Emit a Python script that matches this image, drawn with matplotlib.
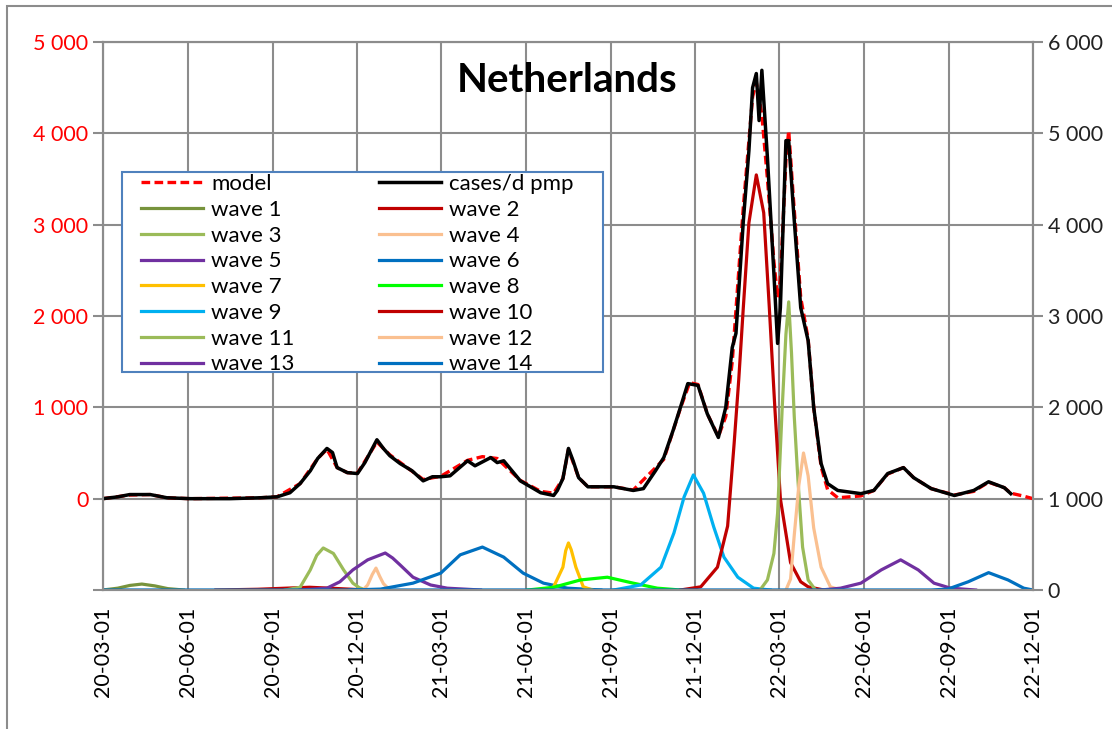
import matplotlib
matplotlib.use('Agg')
import matplotlib.pyplot as plt
import matplotlib.dates as mdates
from matplotlib.patches import Rectangle
import pandas as pd

plt.rcParams['font.family'] = ['Lato', 'DejaVu Sans']

# cases per day per million (left axis)
case_dates = ['2020-03-01', '2020-03-17', '2020-03-30', '2020-04-21', '2020-05-09', '2020-06-03',
              '2020-07-16', '2020-08-18', '2020-09-05', '2020-09-19', '2020-09-30', '2020-10-11',
              '2020-10-19', '2020-10-29', '2020-11-04', '2020-11-09', '2020-11-20', '2020-12-01',
              '2020-12-09', '2020-12-22', '2020-12-29', '2021-01-05', '2021-01-16', '2021-01-29',
              '2021-02-10', '2021-02-20', '2021-03-01', '2021-03-11', '2021-03-30', '2021-04-07',
              '2021-04-24', '2021-05-01', '2021-05-08', '2021-05-26', '2021-06-17', '2021-07-01',
              '2021-07-05', '2021-07-11', '2021-07-17', '2021-07-22', '2021-07-28', '2021-08-07',
              '2021-09-04', '2021-09-25', '2021-10-06', '2021-10-19', '2021-10-28', '2021-11-07',
              '2021-11-15', '2021-11-23', '2021-12-04', '2021-12-14', '2021-12-26', '2022-01-03',
              '2022-01-10', '2022-01-14', '2022-01-22', '2022-01-28', '2022-02-01', '2022-02-05',
              '2022-02-08', '2022-02-11', '2022-02-17', '2022-02-24', '2022-02-28', '2022-03-03',
              '2022-03-09', '2022-03-12', '2022-03-17', '2022-03-25', '2022-04-02', '2022-04-08',
              '2022-04-16', '2022-04-23', '2022-05-04', '2022-05-29', '2022-06-12', '2022-06-27',
              '2022-07-14', '2022-07-25', '2022-08-13', '2022-09-07', '2022-09-28', '2022-10-14',
              '2022-10-31', '2022-11-07']
case_vals = [0, 20, 45, 45, 10, 0,
             0, 10, 20, 65, 165, 305,
             440, 550, 505, 340, 285, 275,
             395, 645, 550, 470, 385, 305,
             195, 240, 240, 250, 415, 360,
             450, 395, 415, 195, 65, 35,
             90, 220, 550, 415, 230, 130,
             130, 90, 110, 305, 450, 745,
             1000, 1260, 1240, 930, 670, 1000,
             1655, 1810, 3045, 3810, 4500, 4655,
             4140, 4690, 3735, 2465, 1700, 2090,
             3920, 3920, 3185, 2090, 1730, 1000,
             385, 165, 90, 55, 90, 275,
             340, 230, 110, 35, 90, 185,
             120, 55]

# model (left axis)
model_dates = ['2020-03-01', '2020-03-30', '2020-04-21', '2020-05-09', '2020-06-03', '2020-08-18',
               '2020-09-05', '2020-09-30', '2020-10-19', '2020-10-29', '2020-11-09', '2020-11-20',
               '2020-12-01', '2020-12-22', '2021-01-05', '2021-01-29', '2021-02-10', '2021-03-01',
               '2021-03-30', '2021-04-15', '2021-05-01', '2021-05-26', '2021-06-17', '2021-07-01',
               '2021-07-11', '2021-07-17', '2021-07-28', '2021-08-07', '2021-09-04', '2021-09-25',
               '2021-10-28', '2021-11-15', '2021-11-25', '2021-12-04', '2021-12-14', '2021-12-26',
               '2022-01-03', '2022-01-10', '2022-01-22', '2022-02-01', '2022-02-05', '2022-02-11',
               '2022-02-17', '2022-02-24', '2022-02-28', '2022-03-03', '2022-03-09', '2022-03-12',
               '2022-03-17', '2022-03-25', '2022-04-02', '2022-04-08', '2022-04-16', '2022-04-23',
               '2022-05-04', '2022-05-29', '2022-06-12', '2022-06-27', '2022-07-14', '2022-07-25',
               '2022-08-13', '2022-09-07', '2022-09-28', '2022-10-14', '2022-10-31', '2022-11-07',
               '2022-11-20', '2022-12-01']
model_vals = [0, 40, 45, 10, 0, 10,
              20, 165, 440, 540, 340, 285,
              280, 620, 480, 300, 210, 245,
              420, 460, 440, 200, 80, 60,
              220, 540, 230, 130, 130, 95,
              430, 990, 1270, 1250, 930, 680,
              900, 1500, 3200, 4400, 4560, 4200,
              3500, 2600, 2200, 2400, 3700, 4030,
              3300, 2200, 1750, 1000, 350, 100,
              10, 30, 90, 270, 340, 230,
              110, 40, 80, 180, 120, 60,
              30, 0]

# waves (right axis)
w1_dates = ['2020-03-01', '2020-03-17', '2020-03-30', '2020-04-12', '2020-04-26', '2020-05-10', '2020-05-27']
w1_vals = [0, 20, 50, 65, 45, 15, 0]
w2_dates = ['2020-07-01', '2020-08-15', '2020-09-15', '2020-10-10', '2020-11-01', '2020-11-25', '2020-12-10']
w2_vals = [0, 8, 20, 30, 20, 8, 0]
w3_dates = ['2020-09-14', '2020-09-30', '2020-10-11', '2020-10-18', '2020-10-25', '2020-11-05',
            '2020-11-16', '2020-11-26', '2020-12-03', '2020-12-10']
w3_vals = [0, 30, 220, 380, 460, 400, 220, 75, 25, 0]
w4_dates = ['2020-12-07', '2020-12-12', '2020-12-17', '2020-12-21', '2020-12-25', '2020-12-29', '2021-01-05']
w4_vals = [0, 55, 170, 240, 150, 70, 0]
w5_dates = ['2020-09-30', '2020-10-29', '2020-11-12', '2020-11-26', '2020-12-12', '2020-12-31',
            '2021-01-08', '2021-01-16', '2021-01-30', '2021-02-18', '2021-03-08', '2021-04-13']
w5_vals = [0, 20, 90, 220, 330, 405, 350, 275, 140, 55, 20, 0]
w6_dates = ['2020-11-23', '2020-12-26', '2021-01-30', '2021-03-01', '2021-03-22', '2021-04-15',
            '2021-05-08', '2021-05-29', '2021-06-20', '2021-07-16', '2021-08-21']
w6_vals = [0, 10, 75, 185, 385, 470, 360, 185, 75, 20, 0]
w7_dates = ['2021-06-22', '2021-07-01', '2021-07-11', '2021-07-14', '2021-07-17', '2021-07-20',
            '2021-07-25', '2021-08-02', '2021-08-12']
w7_vals = [0, 35, 250, 430, 515, 440, 250, 35, 0]
w8_dates = ['2021-06-03', '2021-07-01', '2021-07-30', '2021-08-28', '2021-09-25', '2021-10-21', '2021-11-15']
w8_vals = [0, 30, 110, 140, 75, 20, 0]
w9_dates = ['2021-09-04', '2021-10-03', '2021-10-25', '2021-11-08', '2021-11-19', '2021-11-29',
            '2021-12-10', '2021-12-21', '2022-01-01', '2022-01-16', '2022-02-02', '2022-02-20']
w9_vals = [0, 55, 250, 625, 1020, 1260, 1060, 690, 360, 140, 20, 0]
w10_dates = ['2021-11-15', '2021-12-07', '2021-12-25', '2022-01-05', '2022-01-12', '2022-01-17',
             '2022-01-22', '2022-01-28', '2022-02-05', '2022-02-13', '2022-02-19', '2022-02-25',
             '2022-03-03', '2022-03-14', '2022-03-25', '2022-04-02', '2022-04-19']
w10_vals = [0, 35, 250, 700, 1600, 2300, 3100, 4020, 4545, 4130, 3100, 2000, 1000, 300, 90, 35, 0]
w11_dates = ['2022-02-09', '2022-02-17', '2022-02-24', '2022-02-28', '2022-03-05', '2022-03-09',
             '2022-03-12', '2022-03-15', '2022-03-18', '2022-03-22', '2022-03-27', '2022-04-02', '2022-04-10']
w11_vals = [0, 110, 400, 840, 2000, 2800, 3155, 2600, 1900, 1200, 470, 110, 0]
w12_dates = ['2022-03-09', '2022-03-14', '2022-03-18', '2022-03-23', '2022-03-28', '2022-04-02',
             '2022-04-08', '2022-04-16', '2022-04-26', '2022-05-07']
w12_vals = [0, 120, 600, 1150, 1500, 1250, 680, 250, 35, 0]
w13_dates = ['2022-04-16', '2022-05-07', '2022-05-29', '2022-06-20', '2022-07-11', '2022-07-30',
             '2022-08-16', '2022-09-03', '2022-09-30']
w13_vals = [0, 20, 75, 220, 330, 220, 75, 20, 0]
w14_dates = ['2020-03-01', '2022-08-13', '2022-08-31', '2022-09-22', '2022-10-14', '2022-11-04',
             '2022-11-21', '2022-12-01']
w14_vals = [0, 0, 10, 90, 190, 110, 20, 0]

waves = [(w1_dates, w1_vals, '#77933C'), (w2_dates, w2_vals, '#C00000'),
         (w3_dates, w3_vals, '#9BBB59'), (w4_dates, w4_vals, '#FAC090'),
         (w5_dates, w5_vals, '#7030A0'), (w6_dates, w6_vals, '#0070C0'),
         (w7_dates, w7_vals, '#FFC000'), (w8_dates, w8_vals, '#00FF00'),
         (w9_dates, w9_vals, '#00B0F0'), (w10_dates, w10_vals, '#C00000'),
         (w11_dates, w11_vals, '#9BBB59'), (w12_dates, w12_vals, '#FAC090'),
         (w13_dates, w13_vals, '#7030A0'), (w14_dates, w14_vals, '#0070C0')]

grid_c = '#8C8C8C'

fig = plt.figure(figsize=(11.12, 7.29), dpi=100)
fig.add_artist(Rectangle((7 / 1112, -0.1), 1.2, 1 - 6 / 729 + 0.1, transform=fig.transFigure,
                         fill=False, edgecolor=grid_c, lw=1.5))

ax = fig.add_axes([103 / 1112, 1 - 590 / 729, 930 / 1112, 548 / 729])
ax2 = ax.twinx()

m_line, = ax.plot(pd.to_datetime(model_dates), model_vals, color='#FF0000', lw=2.4,
                  dashes=(2.6, 1.3), label='model', zorder=3)
c_line, = ax.plot(pd.to_datetime(case_dates), case_vals, color='black', lw=2.5,
                  label='cases/d pmp', zorder=4)

w_lines = []
for i, (d, v, col) in enumerate(waves):
    ln, = ax2.plot(pd.to_datetime(d), v, color=col, lw=2.3, label=f'wave {i + 1}')
    w_lines.append(ln)

x0, x1 = pd.Timestamp('2020-03-01'), pd.Timestamp('2022-12-01')
ax.set_xlim(x0, x1)
ax.set_ylim(-1000, 5000)
ax2.set_ylim(0, 6000)

ax.set_xticks(pd.date_range(x0, x1, freq='3MS'))
ax.xaxis.set_major_formatter(mdates.DateFormatter('%y-%m-%d'))
ax.tick_params(axis='x', rotation=90, length=0, labelsize=15.5, pad=12)

left_ticks = list(range(-1000, 5001, 1000))
ax.set_yticks(left_ticks)
ax.set_yticklabels(['' if t < 0 else f'{t:,}'.replace(',', ' ') for t in left_ticks])
ax.tick_params(axis='y', colors=grid_c, labelcolor='#FF0000', labelsize=15.5, length=7, width=1.5)

right_ticks = list(range(0, 6001, 1000))
ax2.set_yticks(right_ticks)
ax2.set_yticklabels([f'{t:,}'.replace(',', ' ') for t in right_ticks])
ax2.tick_params(axis='y', colors=grid_c, labelcolor='#222222', labelsize=15.5, length=7, width=1.5)

ax.grid(True, color=grid_c, lw=1.5)
ax.set_axisbelow(True)
for a in (ax, ax2):
    for s in a.spines.values():
        s.set_color(grid_c)
        s.set_linewidth(1.5)

ax2.text(0.499, 0.93, 'Netherlands', transform=ax2.transAxes, ha='center', va='center',
         fontsize=29, fontweight='bold')

# legend box drawn separately so padding can match
ax2.add_patch(Rectangle(((122 - 103) / 930, (590 - 372) / 548), 481 / 930, 200 / 548,
                        transform=ax2.transAxes, facecolor='white', edgecolor='#4F81BD',
                        lw=1.5, zorder=5))
col1 = [m_line] + w_lines[0::2]
col2 = [c_line] + w_lines[1::2]
handles = col1 + col2
leg = ax2.legend(handles, [h.get_label() for h in handles], ncol=2, loc='upper left',
                 bbox_to_anchor=((141 - 103) / 930, (590 - 174) / 548), fontsize=16,
                 frameon=False, handlelength=2.8, handletextpad=0.35, labelspacing=0.26,
                 columnspacing=3.8, borderpad=0, borderaxespad=0)
leg.set_zorder(6)

fig.savefig('out.png', dpi=100)
